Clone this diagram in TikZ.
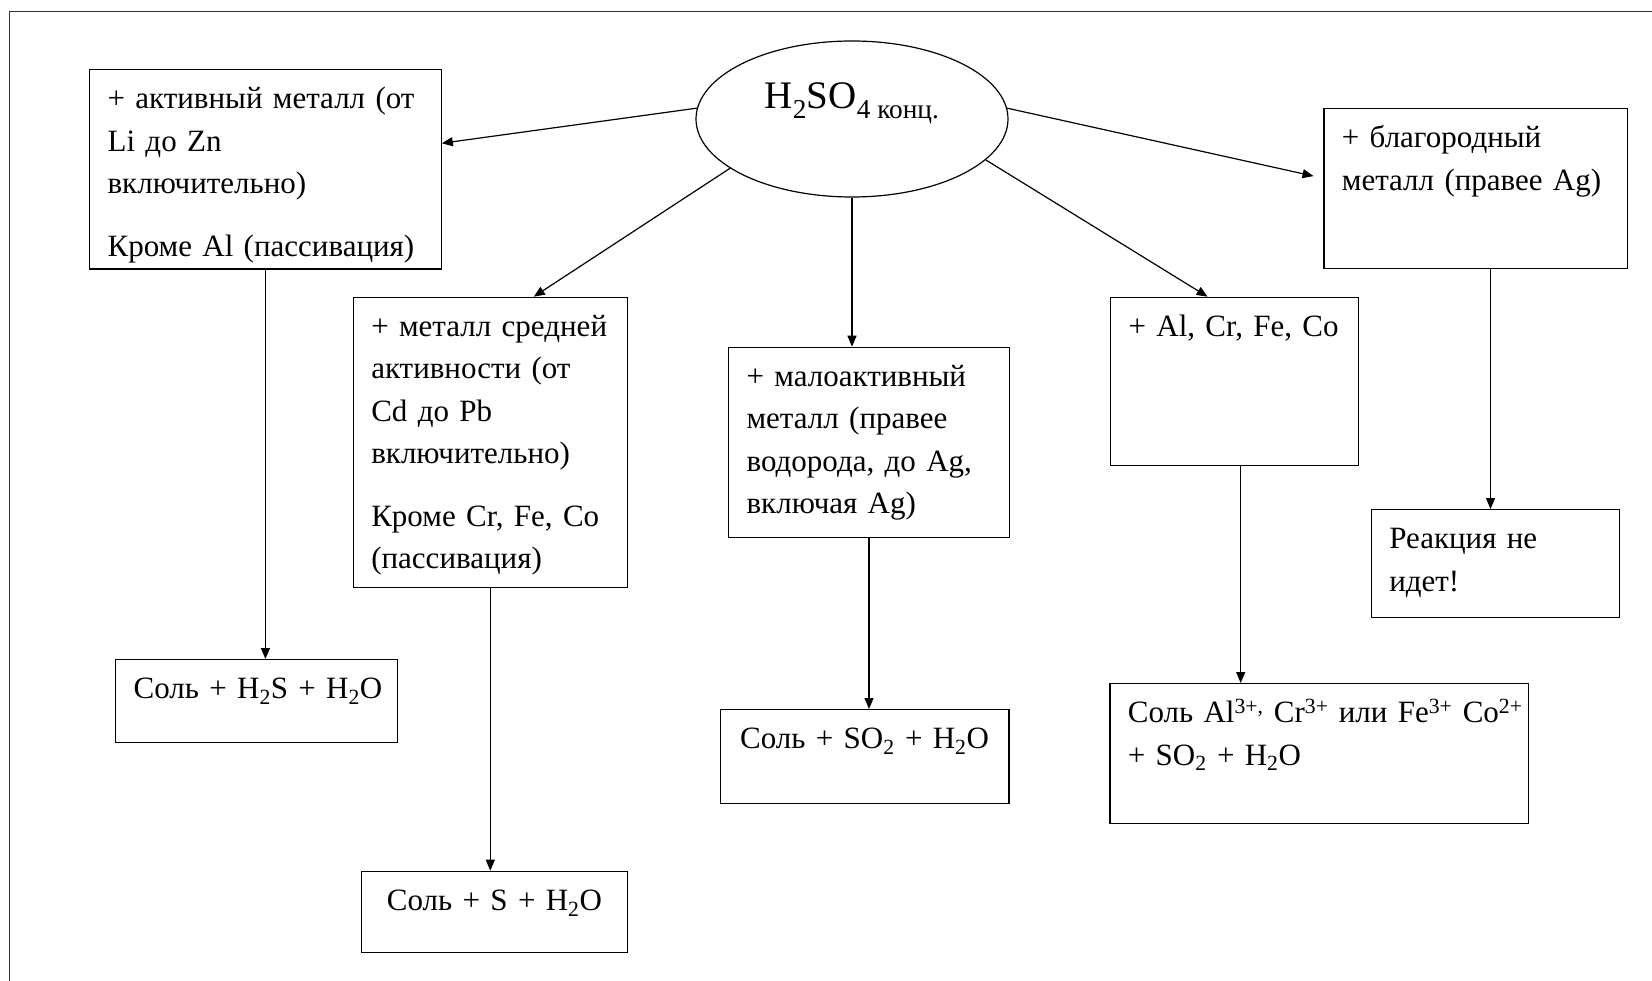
\documentclass[tikz,border=0pt]{standalone}
\usepackage{fontspec}
\setmainfont{Liberation Serif}
\usetikzlibrary{arrows.meta,calc,shapes.geometric}

% first-line strut: puts the first baseline 39pt below the top edge
\newcommand\firststrut{\rule{0pt}{39pt}}
% depth below the last baseline, fixing the height of a box
\newcommand\lastdepth[1]{\rule[-#1]{0pt}{#1}}
% one unbreakable line of text
\newcommand\tline[1]{\mbox{#1}}

\tikzset{
  box/.style={draw=black, line width=1.2pt, rectangle, anchor=north west,
    inner xsep=18pt, inner ysep=0pt, align=left,
    font=\fontsize{31pt}{42.5pt}\selectfont},
  cbox/.style={box, align=center},
  arr/.style={-{Triangle[length=11pt,width=9pt]}, line width=1.2pt, draw=black}
}

\begin{document}
\begin{tikzpicture}[x=1pt, y=-1pt]
\useasboundingbox (0,0) rectangle (1652,981);

% outer frame (its right and bottom sides run off the page)
\draw[line width=1.8pt, black!80] (9.5,981) -- (9.5,11.5) -- (1652,11.5);

% central node
\node[ellipse, draw=black, line width=1.2pt, minimum width=312pt, minimum height=156pt,
      inner sep=0pt, font=\fontsize{39pt}{45pt}\selectfont] (h) at (852,119)
  {\rule[-60pt]{0pt}{100pt}H\textsubscript{2}SO\textsubscript{4 конц.}};

% conditions
\node[box, text width=315.6pt] (A) at (89,69)
  {\firststrut\tline{+ активный металл (от}\\ \tline{Li до Zn}\\ \tline{включительно)}\\[20pt]
   \tline{Кроме Al (пассивация)}\lastdepth{13pt}};

\node[box, text width=238pt] (B) at (352.7,296.7)
  {\firststrut\tline{+ металл средней}\\ \tline{активности (от}\\ \tline{Cd до Pb}\\
   \tline{включительно)}\\[20pt] \tline{Кроме Cr, Fe, Co}\\ \tline{(пассивация)}\lastdepth{19pt}};

\node[box, text width=244.8pt] (C) at (728,346.7)
  {\firststrut\tline{+ малоактивный}\\ \tline{металл (правее}\\ \tline{водорода, до Ag,}\\
   \tline{включая Ag)}\lastdepth{23.5pt}};

\node[box, text width=211.7pt] (D) at (1110,296.7)
  {\firststrut\tline{+ Al, Cr, Fe, Co}\lastdepth{129.3pt}};

\node[box, text width=267.4pt] (E) at (1323.3,108.3)
  {\firststrut\tline{+ благородный}\\ \tline{металл (правее Ag)}\lastdepth{78.5pt}};

% products
\node[box, text width=212.3pt] (F) at (1370.7,509)
  {\firststrut\tline{Реакция не}\\ \tline{идет!}\lastdepth{26pt}};

\node[cbox, text width=246pt] (G) at (115,659)
  {\firststrut\tline{Соль + H\textsubscript{2}S + H\textsubscript{2}O}\lastdepth{44pt}};

\node[cbox, text width=230.3pt] (H) at (360.7,870.7)
  {\firststrut\tline{Соль + S + H\textsubscript{2}O}\lastdepth{42.5pt}};

\node[cbox, text width=252.7pt] (I) at (719.6,709)
  {\firststrut\tline{Соль + SO\textsubscript{2} + H\textsubscript{2}O}\lastdepth{55pt}};

\node[box, text width=382.7pt] (J) at (1109.3,683)
  {\firststrut\tline{Соль Al\textsuperscript{3+,} Cr\textsuperscript{3+} или Fe\textsuperscript{3+} Co\textsuperscript{2+}}\\
   \tline{+ SO\textsubscript{2} + H\textsubscript{2}O}\lastdepth{58.5pt}};

% arrows from the acid
\draw[arr] (h.176) -- ($(A.north east)!0.37!(A.south east)$);
\draw[arr] (h.202) -- ($(B.north west)!0.658!(B.north east)$);
\draw[arr] (h.south) -- (h.south |- C.north);
\draw[arr] (h.343) -- ($(D.north west)!0.392!(D.north east)$);
\draw[arr, shorten >=10pt] (h.4) -- ($(E.north west)!0.434!(E.south west)$);

% arrows to the products
\coordinate (dj) at ($(D.south west)!0.525!(D.south east)$);
\coordinate (ef) at ($(E.south west)!0.549!(E.south east)$);
\draw[arr] (A.south) -- (A.south |- G.north);
\draw[arr] (B.south) -- (B.south |- H.north);
\draw[arr] (C.south) -- (C.south |- I.north);
\draw[arr] (dj) -- (dj |- J.north);
\draw[arr] (ef) -- (ef |- F.north);
\end{tikzpicture}
\end{document}
